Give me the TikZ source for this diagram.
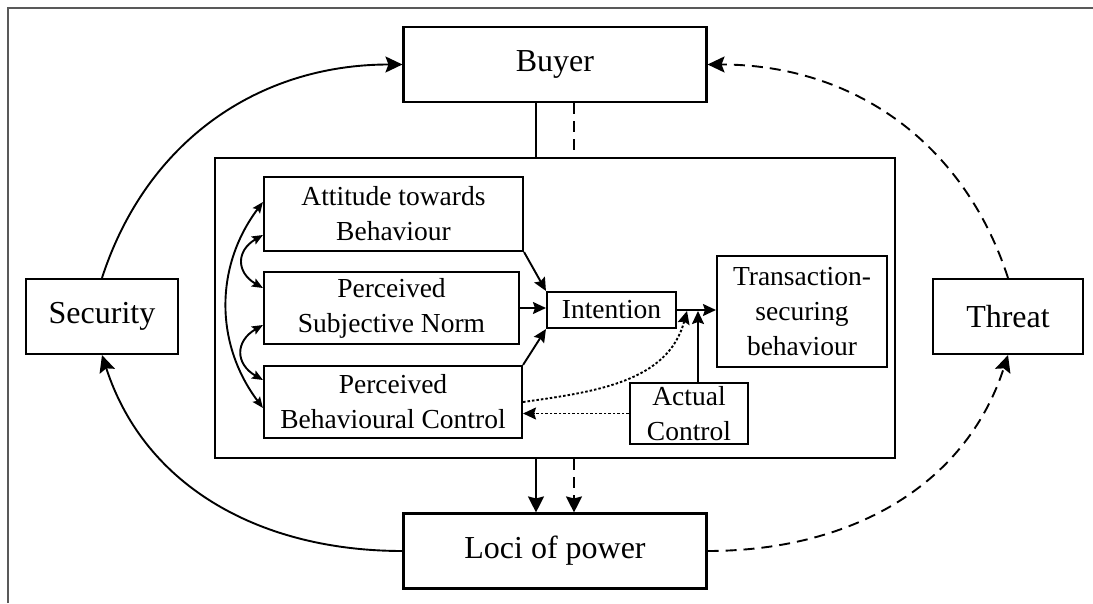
\documentclass[tikz,border=0pt]{standalone}
\usepackage{fontspec}
\setmainfont{Liberation Serif}
\usetikzlibrary{arrows.meta,calc}
\begin{document}
\begin{tikzpicture}[x=1pt,y=1pt,
  box/.style={draw,line width=2.1pt,inner sep=0pt,align=center,font=\fontsize{27.5}{35}\selectfont},
  obox/.style={box,font=\fontsize{32}{38}\selectfont},
  con/.style={line width=1.9pt},
  bigtip/.style={-{Stealth[length=17pt,width=16pt,inset=3pt]}},
  midtip/.style={-{Stealth[length=16pt,width=16pt,inset=2pt]}},
  smalltip/.style={-{Stealth[length=13pt,width=12pt,inset=2pt]}},
  dbltip/.style={{Stealth[length=11pt,width=9pt,inset=2pt]}-{Stealth[length=11pt,width=9pt,inset=2pt]}},
  odash/.style={dash pattern=on 11pt off 7pt},
  idot/.style={dash pattern=on 2.5pt off 2pt},
]
\useasboundingbox (0,0) rectangle (1093,603);
\draw[gray!70!black,line width=1.8pt] (8,0) -- (8,595) -- (1093,595);

% outer nodes
\node[obox,minimum width=303,minimum height=75] (buyer) at (555,538.5) {Buyer};
\node[obox,minimum width=303,minimum height=75] (loci) at (555,52) {Loci of power};
\node[obox,minimum width=152,minimum height=75] (sec) at (102,286.5) {Security};
\node[obox,minimum width=150,minimum height=75] (thr) at (1008,286.5) {Threat};
\node[draw,line width=2.1pt,minimum width=680,minimum height=300,inner sep=0pt] (inner) at (555,295) {};

% inner nodes
\node[box,minimum width=259,minimum height=74] (att) at (393.5,389) {Attitude towards\\Behaviour};
\node[box,minimum width=255,minimum height=72] (psn) at (391.5,295) {Perceived\\Subjective Norm};
\node[box,minimum width=258,minimum height=72] (pbc) at (393,201) {Perceived\\Behavioural Control};
\node[box,minimum width=129,minimum height=36] (int) at (611.5,293) {Intention};
\node[box,minimum width=170,minimum height=111] (tsb) at (802,291.5) {Transaction-\\securing\\behaviour};
\node[box,minimum width=118,minimum height=61] (ac) at (689,189.5) {Actual\\Control};

\coordinate (j1) at (687,292);
\coordinate (j2) at (698,292);

% buyer -- inner
\draw[con] ([xshift=-19]buyer.south) -- ([xshift=-19]inner.north);
\draw[con,odash] ([xshift=19]buyer.south) -- ([xshift=19]inner.north);
% inner -> loci
\draw[con,midtip] ([xshift=-19]inner.south) -- ([xshift=-19]loci.north);
\draw[con,midtip,odash] ([xshift=19]inner.south) -- ([xshift=19]loci.north);

% outer arcs
\draw[con,bigtip] (sec.north) to[out=72,in=180] (buyer.west);
\draw[con,bigtip] (loci.west) to[out=180,in=-72] (sec.south);
\draw[con,bigtip,odash] (thr.north) to[out=108,in=0] (buyer.east);
\draw[con,bigtip,odash] (loci.east) to[out=0,in=-108] (thr.south);

% inner arrows
\draw[con,smalltip] (att.south east) -- (int.north west);
\draw[con,smalltip] (psn.east) -- (psn.east -| int.west);
\draw[con,smalltip] (pbc.north east) -- (int.south west);
\draw[con,smalltip] (int.east) -- (int.east -| tsb.west);
\draw[con,smalltip] (ac.north -| j2) -- (j2);
\draw[con,smalltip,idot] (pbc.east) to[out=8,in=-105] (j1);
\draw[con,smalltip,idot] (ac.west) -- (ac.west -| pbc.east);

% correlations
\draw[con,dbltip] ($(att.west)+(0,12)$) to[out=-127,in=127] ($(pbc.west)+(0,-6)$);
\draw[con,dbltip] ($(att.west)+(0,-21)$) to[out=-150,in=150,looseness=1.5] ($(psn.west)+(0,20)$);
\draw[con,dbltip] ($(psn.west)+(0,-17)$) to[out=-150,in=150,looseness=1.5] ($(pbc.west)+(0,22)$);
\end{tikzpicture}
\end{document}
